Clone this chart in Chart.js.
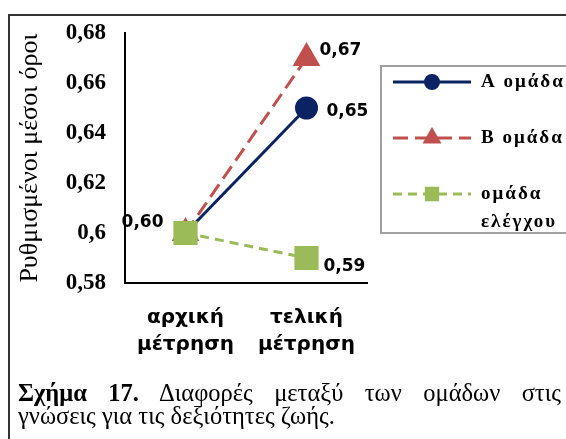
<!DOCTYPE html>
<html>
<head>
<meta charset="utf-8">
<script src="https://cdn.jsdelivr.net/npm/chart.js@4/dist/chart.umd.min.js"></script>
<style>
  html, body { margin: 0; padding: 0; background: #fff; }
  #wrap { position: relative; width: 566px; height: 439px; overflow: hidden; }
  #frame { position: absolute; left: 8px; top: 14px; width: 600px; height: 500px;
           border-left: 2px solid #333; border-top: 2px solid #333; }
  #caption { position: absolute; left: 18px; top: 381px; width: 543px;
             font-family: "Liberation Serif", "Times New Roman", serif; font-size: 24.5px;
             line-height: 23px; color: #000; }
  #caption .l1 { text-align: justify; text-align-last: justify; }
</style>
</head>
<body>
<div id="wrap">
  <div id="frame"></div>
  <canvas id="myChart" width="566" height="439"></canvas>
  <div id="caption">
    <div class="l1"><b>Σχήμα 17.</b> Διαφορές μεταξύ των ομάδων στις</div>
    <div>γνώσεις για τις δεξιότητες ζωής.</div>
  </div>
</div>
<script>
// Categories and series values
const categories = [['αρχική', 'μέτρηση'], ['τελική', 'μέτρηση']];
const groupA = [0.60, 0.65];
const groupB = [0.60, 0.67];
const controlGroup = [0.60, 0.59];
const seriesNames = ['Α ομάδα', 'Β ομάδα', ['ομάδα', 'ελέγχου']];
const yTicks = [0.58, 0.60, 0.62, 0.64, 0.66, 0.68];

function fmt(v) {
    return String(+v.toFixed(2)).replace('.', ',');
}

// Value labels next to the points
const valueLabels = {
    id: 'valueLabels',
    afterDatasetsDraw(chart) {
        const ctx = chart.ctx;
        // [dataset, point, dx, dy, align]
        const spots = [
            [0, 0, -22, -10, 'right'],
            [0, 1, 20, 4, 'left'],
            [1, 1, 13, -7, 'left'],
            [2, 1, 17, 9, 'left']
        ];
        ctx.save();
        ctx.font = 'bold 17px "DejaVu Sans"';
        ctx.fillStyle = '#000';
        ctx.textBaseline = 'middle';
        spots.forEach(([d, i, dx, dy, align]) => {
            const pt = chart.getDatasetMeta(d).data[i];
            const v = chart.data.datasets[d].data[i];
            ctx.textAlign = align;
            ctx.fillText(v.toFixed(2).replace('.', ','), pt.x + dx, pt.y + dy);
        });
        ctx.restore();
    }
};

// Boxed legend on the right
const boxLegend = {
    id: 'boxLegend',
    afterDraw(chart) {
        const ctx = chart.ctx;
        ctx.save();
        ctx.strokeStyle = '#a0a0a0';
        ctx.lineWidth = 2;
        ctx.strokeRect(381, 66, 300, 167);
        const rows = [82, 138, 194];
        const sizes = [6.5, 8, 8];
        chart.data.datasets.forEach((ds, k) => {
            const y = rows[k];
            ctx.strokeStyle = ds.borderColor;
            ctx.lineWidth = 3;
            ctx.setLineDash(ds.borderDash || []);
            ctx.beginPath();
            ctx.moveTo(393, y);
            ctx.lineTo(471, y);
            ctx.stroke();
            ctx.setLineDash([]);
            Chart.helpers.drawPoint(ctx, {
                pointStyle: ds.pointStyle, radius: sizes[k], borderWidth: 1
            }, 432, y);
            ctx.fillStyle = ds.backgroundColor;
            ctx.fill();
            ctx.fillStyle = '#000';
            ctx.font = 'bold 19px "Liberation Serif"';
            ctx.letterSpacing = '2px';
            ctx.textAlign = 'left';
            ctx.textBaseline = 'middle';
            const lines = [].concat(seriesNames[k]);
            lines.forEach((t, j) => ctx.fillText(t, 481, y + j * 28));
        });
        ctx.restore();
    }
};

const ctx = document.getElementById('myChart').getContext('2d');
new Chart(ctx, {
    type: 'line',
    data: {
        labels: categories,
        datasets: [{
            label: 'Α ομάδα',
            data: groupA,
            borderColor: '#0b2263',
            backgroundColor: '#0b2263',
            borderWidth: 3,
            pointStyle: 'circle',
            pointRadius: 10,
            order: 1
        }, {
            label: 'Β ομάδα',
            data: groupB,
            borderColor: '#c0504d',
            backgroundColor: '#c0504d',
            borderWidth: 3,
            borderDash: [15, 7],
            pointStyle: 'triangle',
            pointRadius: 13,
            order: 2
        }, {
            label: 'ομάδα ελέγχου',
            data: controlGroup,
            borderColor: '#9bbb59',
            backgroundColor: '#9bbb59',
            borderWidth: 3,
            borderDash: [9, 6],
            pointStyle: 'rect',
            pointRadius: 15,
            order: 0
        }]
    },
    options: {
        responsive: false,
        animation: false,
        layout: { padding: { top: 33, right: 199, left: 0, bottom: 0 } },
        elements: { point: { borderWidth: 0 }, line: { tension: 0 } },
        plugins: {
            legend: { display: false },
            tooltip: { enabled: false }
        },
        scales: {
            x: {
                offset: true,
                grid: { display: false, drawTicks: false },
                border: { display: true, color: '#000', width: 2 },
                ticks: {
                    color: '#000',
                    padding: 21,
                    font: { family: 'DejaVu Sans', weight: 'bold', size: 20, lineHeight: 1.35 }
                },
                afterFit: (s) => { s.height = 156; }
            },
            y: {
                min: 0.58,
                max: 0.68,
                grid: { display: false, drawTicks: false },
                border: { display: true, color: '#000', width: 2 },
                afterBuildTicks: (s) => { s.ticks = yTicks.map(v => ({ value: v })); },
                ticks: {
                    color: '#000',
                    padding: 19,
                    callback: (v) => fmt(v),
                    font: { family: 'Liberation Serif', weight: 'bold', size: 23 }
                },
                title: {
                    display: true,
                    text: 'Ρυθμισμένοι μέσοι όροι',
                    color: '#000',
                    padding: { top: 15, bottom: 0 },
                    font: { family: 'Liberation Serif', size: 26 }
                },
                afterFit: (s) => { s.width = 125; }
            }
        }
    },
    plugins: [valueLabels, boxLegend]
});
</script>
</body>
</html>
